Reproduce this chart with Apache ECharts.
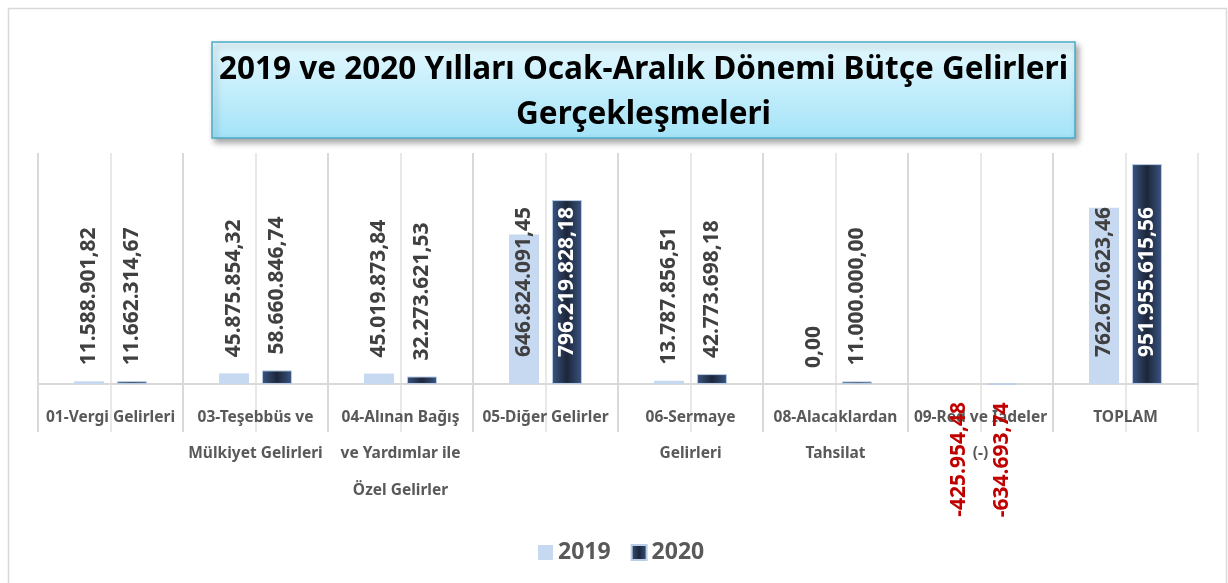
<!DOCTYPE html>
<html>
<head>
<meta charset="utf-8">
<script src="https://cdn.jsdelivr.net/npm/echarts@6/dist/echarts.min.js"></script>
<style>
html,body{margin:0;padding:0;background:#fff;}
#chart{width:1228px;height:583px;}
</style>
</head>
<body>
<div id="chart"></div>
<script>
const categories = [
  '01-Vergi Gelirleri',
  '03-Teşebbüs ve\nMülkiyet Gelirleri',
  '04-Alınan Bağış\nve Yardımlar ile\nÖzel Gelirler',
  '05-Diğer Gelirler',
  '06-Sermaye\nGelirleri',
  '08-Alacaklardan\nTahsilat',
  '09-Red ve İadeler\n(-)',
  'TOPLAM'
];
const values2019 = [11588901.82, 45875854.32, 45019873.84, 646824091.45, 13787856.51, 0.00, -425954.48, 762670623.46];
const values2020 = [11662314.67, 58660846.74, 32273621.53, 796219828.18, 42773698.18, 11000000.00, -634693.74, 951955615.56];
const seriesNames = ['2019', '2020'];
const titleText = '2019 ve 2020 Yılları Ocak-Aralık Dönemi Bütçe Gelirleri\nGerçekleşmeleri';

const FONT = '"Noto Sans", "Open Sans", sans-serif';

function fmtTR(v) {
  const neg = v < 0;
  const parts = Math.abs(v).toFixed(2).split('.');
  const i = parts[0].replace(/\B(?=(\d{3})+(?!\d))/g, '.');
  return (neg ? '-' : '') + i + ',' + parts[1];
}

function makeItems(values, insideColor) {
  return values.map(v => {
    let label;
    if (v < 0) label = { position: 'bottom', align: 'right', distance: 18, color: '#c00000' };
    else if (v > 300e6) label = { position: 'insideBottom', align: 'left', distance: 27, color: insideColor };
    else label = { position: 'top', align: 'left', distance: 16 };
    return { value: v, label: label };
  });
}

const baseLabel = {
  show: true,
  rotate: 90,
  align: 'left',
  verticalAlign: 'middle',
  fontSize: 21,
  fontWeight: 'bold',
  fontFamily: FONT,
  color: '#404040',
  formatter: p => fmtTR(p.value)
};

const halfCats = [];
for (let i = 0; i < categories.length * 2; i++) halfCats.push(String(i));

const chart = echarts.init(document.getElementById('chart'), null, { renderer: 'canvas' });
chart.setOption({
  backgroundColor: '#ffffff',
  animation: false,
  graphic: [
    {
      type: 'rect', z: -10, silent: true,
      shape: { x: 8.5, y: 8.5, width: 1218, height: 580 },
      style: { fill: 'none', stroke: '#d9d9d9', lineWidth: 1.5 }
    },
    {
      type: 'group', z: 100,
      children: [
        {
          type: 'rect',
          shape: { x: 212, y: 42, width: 863, height: 96 },
          style: {
            fill: new echarts.graphic.LinearGradient(0, 0, 0, 1, [
              { offset: 0, color: '#e4f8fe' },
              { offset: 1, color: '#a3e3f8' }
            ]),
            stroke: '#4aacc5', lineWidth: 1.5,
            shadowBlur: 6, shadowOffsetX: 3, shadowOffsetY: 4, shadowColor: 'rgba(0,0,0,0.35)'
          }
        },
        {
          type: 'text',
          style: {
            x: 643.5, y: 93, text: titleText,
            align: 'center', verticalAlign: 'middle',
            font: 'bold 31.5px ' + FONT, lineHeight: 45, fill: '#000000'
          }
        }
      ]
    }
  ],
  legend: {
    data: seriesNames,
    left: 533, top: 536,
    itemWidth: 15, itemHeight: 15, itemGap: 20,
    icon: 'rect',
    textStyle: { fontSize: 23, fontWeight: 'bold', color: '#595959', fontFamily: FONT }
  },
  grid: { left: 38, right: 30, top: 153, bottom: 151, containLabel: false },
  xAxis: [
    {
      type: 'category',
      data: categories,
      axisLine: { show: true, onZero: true, lineStyle: { color: '#d9d9d9', width: 2 } },
      axisTick: { show: false },
      splitLine: { show: true, lineStyle: { color: '#d9d9d9', width: 2 } },
      axisLabel: {
        interval: 0, margin: -33,
        fontSize: 15.5, fontWeight: 'bold', color: '#595959', fontFamily: FONT,
        lineHeight: 36.5
      }
    },
    {
      type: 'category',
      data: halfCats,
      position: 'bottom',
      axisLine: { show: false },
      axisTick: { show: false },
      axisLabel: { show: false },
      splitLine: { show: true, interval: (idx) => idx % 2 === 1, lineStyle: { color: '#e8e8e8', width: 2 } }
    }
  ],
  yAxis: {
    type: 'value',
    min: -0.208e9,
    max: 1e9,
    show: false,
    splitLine: { show: false }
  },
  series: [
    {
      name: seriesNames[0],
      type: 'bar',
      xAxisIndex: 0,
      barWidth: 30,
      barGap: '43%',
      itemStyle: { color: '#c6d9f0' },
      label: baseLabel,
      data: makeItems(values2019, '#404040')
    },
    {
      name: seriesNames[1],
      type: 'bar',
      xAxisIndex: 0,
      barWidth: 30,
      barGap: '43%',
      itemStyle: {
        color: new echarts.graphic.LinearGradient(0, 0, 1, 0, [
          { offset: 0, color: '#3a5482' },
          { offset: 0.5, color: '#1c2639' },
          { offset: 1, color: '#3a5482' }
        ]),
        borderColor: '#b9cde6', borderWidth: 1
      },
      label: baseLabel,
      data: makeItems(values2020, '#ffffff')
    }
  ]
});
</script>
</body>
</html>
